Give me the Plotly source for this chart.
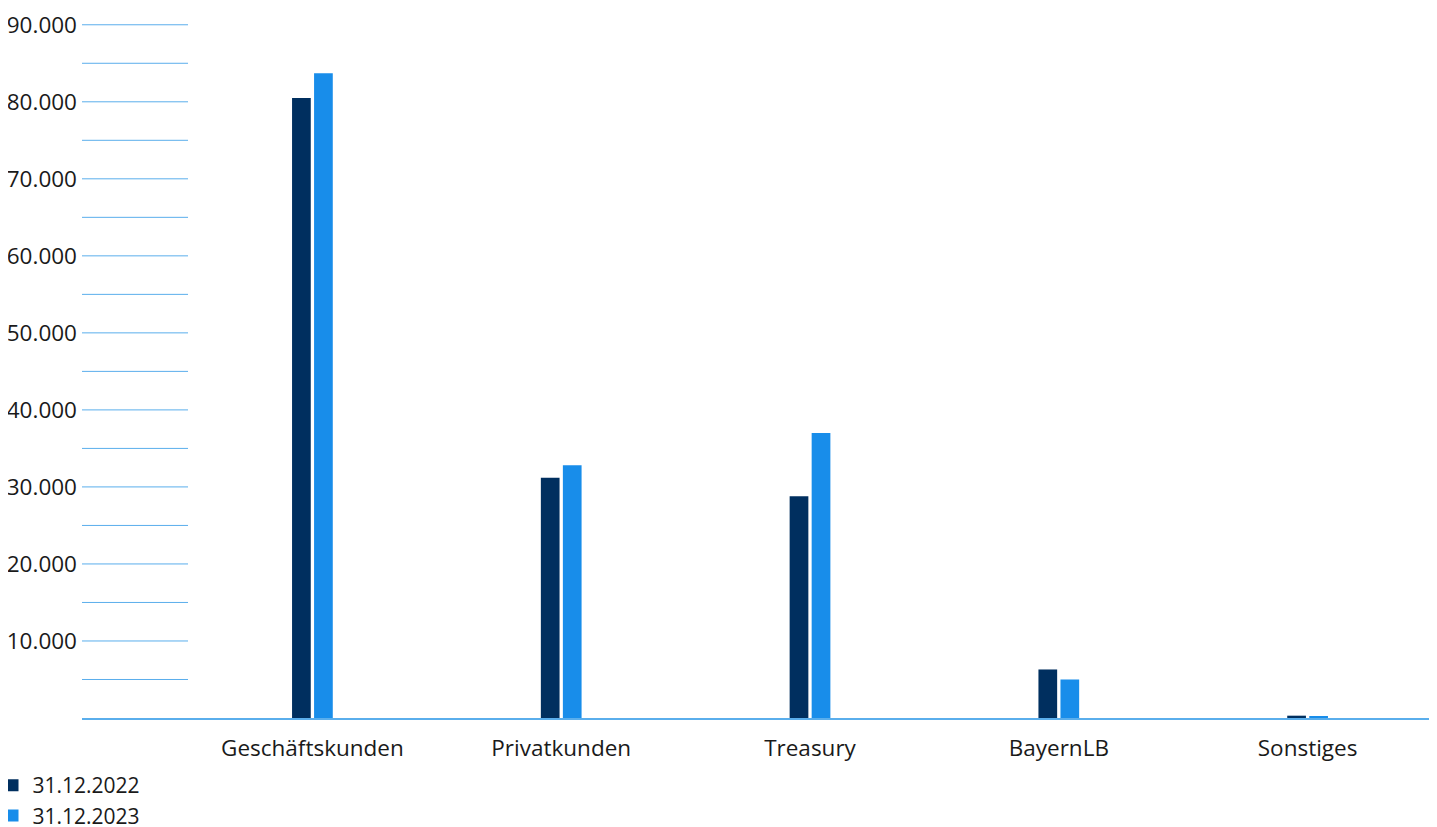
import plotly.graph_objects as go

categories = ["Geschäftskunden", "Privatkunden", "Treasury", "BayernLB", "Sonstiges"]
series_names = ["31.12.2022", "31.12.2023"]
values_2022 = [80500, 31200, 28800, 6300, 300]
values_2023 = [83700, 32800, 37000, 5000, 250]
ytick_vals = [10000, 20000, 30000, 40000, 50000, 60000, 70000, 80000, 90000]
ytick_text = ["10.000", "20.000", "30.000", "40.000", "50.000", "60.000", "70.000", "80.000", "90.000"]
grid_vals = [5000 * i for i in range(1, 19)]

DARK = "#002f5f"
LIGHT = "#188dea"
GRID = "#5aaeec"
TXT = "#1a1a1a"
FONT = "Open Sans"
FS = 22.5
LFS = 21

# page body has an 8px offset; margins compensate
L, R, T, B = 74, 13, 16, 117
plot_w = 1437 - L - R

fig = go.Figure()
fig.add_trace(go.Bar(x=categories, y=values_2022, name=series_names[0], marker=dict(color=DARK, line=dict(width=0))))
fig.add_trace(go.Bar(x=categories, y=values_2023, name=series_names[1], marker=dict(color=LIGHT, line=dict(width=0))))

x_left = -0.5 - 106 / 248.75
for g in grid_vals:
    fig.add_shape(type="line", xref="x", yref="y", x0=x_left, x1=-0.5, y0=g, y1=g,
                  line=dict(color=GRID, width=1), layer="below")

fig.update_layout(
    width=1437, height=827,
    margin=dict(l=L, r=R, t=T, b=B, autoexpand=False),
    paper_bgcolor="white", plot_bgcolor="white",
    font=dict(family=FONT, size=FS, color=TXT),
    barmode="group", bargap=0.823, bargroupgap=0.15,
    showlegend=True,
    legend=dict(orientation="v", xref="paper", yref="container", x=-(L + 15.5) / plot_w, y=1 - 757 / 827,
                xanchor="left", yanchor="top", font=dict(size=LFS, color=TXT),
                bgcolor="rgba(0,0,0,0)", itemwidth=30, tracegroupgap=0),
    xaxis=dict(range=[x_left, 4.5], showgrid=False, zeroline=False, showline=True, automargin=False,
               linecolor=GRID, linewidth=1.5, ticks="", ticklabelstandoff=9,
               tickfont=dict(size=FS, color=TXT)),
    yaxis=dict(range=[0, 90100], showgrid=False, zeroline=False, showline=False, automargin=False,
               tickvals=ytick_vals, ticktext=ytick_text, ticks="", ticklabelstandoff=4,
               tickfont=dict(size=FS, color=TXT)),
)

fig.write_html("out.html")
